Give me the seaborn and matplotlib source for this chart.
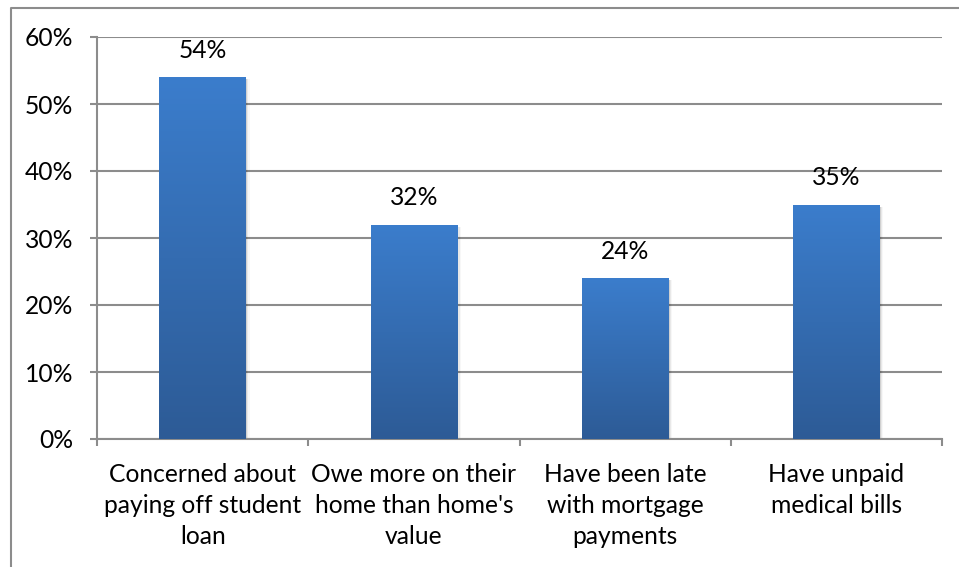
import matplotlib
matplotlib.use("Agg")
import matplotlib.pyplot as plt
import matplotlib.lines as mlines
import numpy as np
import pandas as pd
import seaborn as sns
from matplotlib.colors import LinearSegmentedColormap

categories = [
    "Concerned about\npaying off student\nloan",
    "Owe more on their\nhome than home's\nvalue",
    "Have been late\nwith mortgage\npayments",
    "Have unpaid\nmedical bills",
]
values = [54, 32, 24, 35]
y_ticks = [0, 10, 20, 30, 40, 50, 60]
y_tick_labels = ["0%", "10%", "20%", "30%", "40%", "50%", "60%"]

df = pd.DataFrame({"category": categories, "value": values})

sns.set_theme(style="white")
plt.rcParams["font.family"] = ["Lato", "DejaVu Sans"]

W, H = 959, 567
FS = 17.7
fig = plt.figure(figsize=(W / 100, H / 100), dpi=100)
fig.patch.set_facecolor("white")
ax = fig.add_axes([97 / W, 1 - 439 / H, (942 - 97) / W, (439 - 37) / H])

grid_col = "#8c8c8c"
sns.barplot(data=df, x="category", y="value", color="#3a7bc8", width=0.41,
            saturation=1, ax=ax, zorder=3)

ax.set_ylim(0, 60)
ax.set_xlim(-0.5, len(categories) - 0.5)

# vertical gradient fill for every bar, plus a soft shadow on the right
cmap = LinearSegmentedColormap.from_list("barfill", ["#2d5b96", "#3b7dcc"])
grad = np.linspace(0, 1, 256).reshape(-1, 1)
for p in ax.patches:
    x0, w, h = p.get_x(), p.get_width(), p.get_height()
    for k, a in enumerate([0.10, 0.06, 0.03]):
        sh = plt.Rectangle((x0 + w, 0), 0.006 * (k + 1), h - 0.3, color="#000000",
                           alpha=a, lw=0, zorder=2)
        ax.add_patch(sh)
    im = ax.imshow(grad, cmap=cmap, aspect="auto", origin="lower",
                   extent=[x0, x0 + w, 0, h], zorder=3.5)
    im.set_clip_path(p)
    p.set_edgecolor("none")

# value labels
for i, v in enumerate(values):
    ax.annotate(f"{v}%", (i, v), xytext=(0, 11), textcoords="offset points",
                ha="center", va="bottom", fontsize=FS, color="#000000")

ax.set_yticks(y_ticks)
ax.set_yticklabels(y_tick_labels, fontsize=FS, color="#000000")
ax.yaxis.grid(True, color=grid_col, lw=1.5, zorder=0)
ax.set_axisbelow(True)

ax.set_xticks(np.arange(-0.5, len(categories), 1.0))
ax.set_xticklabels([])
ax.set_xticks(range(len(categories)), minor=True)
ax.set_xticklabels(categories, minor=True, fontsize=FS, color="#000000",
                   linespacing=1.42)
ax.tick_params(axis="x", which="major", length=5, width=1.5, color=grid_col,
               direction="out", bottom=True)
ax.tick_params(axis="x", which="minor", length=0, pad=17)
ax.tick_params(axis="y", length=5, width=1.5, color=grid_col, direction="out",
               left=True, pad=12)

for side in ["top", "right"]:
    ax.spines[side].set_visible(False)
for side in ["left", "bottom"]:
    ax.spines[side].set_color(grid_col)
    ax.spines[side].set_linewidth(1.5)

ax.set_xlabel("")
ax.set_ylabel("")

# chart frame
bx, by = 10.5 / W, 1 - 7.5 / H
fig.add_artist(mlines.Line2D([bx, bx, 1.0], [0.0, by, by], color="#8c8c8c",
                             lw=1.5, transform=fig.transFigure))

fig.savefig("out.png", dpi=100)
